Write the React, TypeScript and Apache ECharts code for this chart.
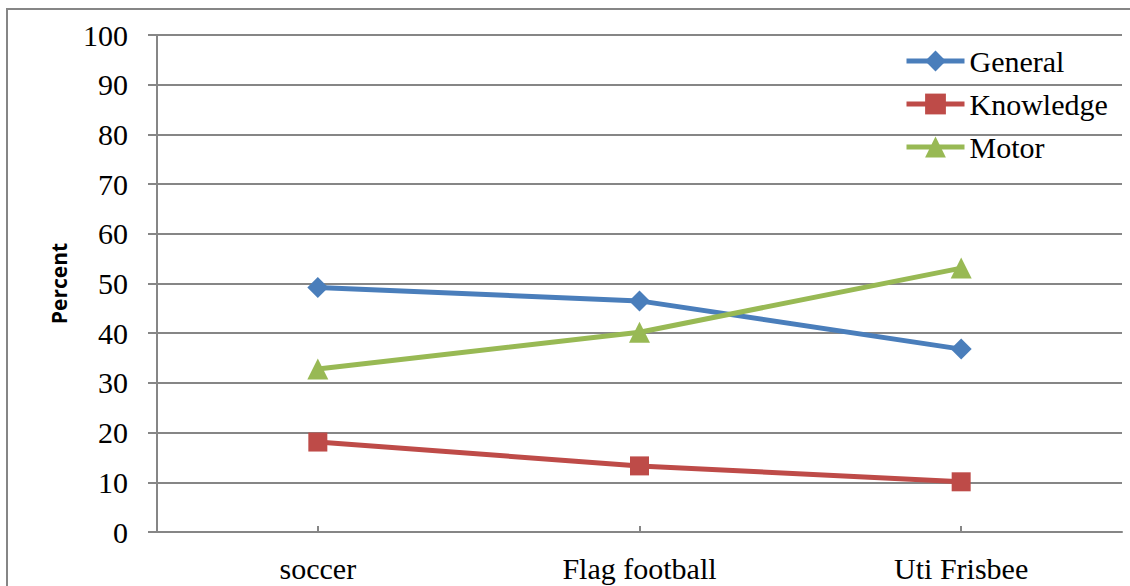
import React, { useEffect, useRef } from "react";
import * as echarts from "echarts";

const categories = ["soccer", "Flag football", "Uti Frisbee"];
const generalValues = [49.2, 46.5, 36.8];
const knowledgeValues = [18.1, 13.3, 10.1];
const motorValues = [32.8, 40.2, 53.1];
const yTicks = { min: 0, max: 100, interval: 10 };

const GRAY = "#868686";
const SERIF = "Liberation Serif";

export default function App() {
  const ref = useRef<HTMLDivElement>(null);
  useEffect(() => {
    if (!ref.current) return;
    const chart = echarts.init(ref.current, undefined, { renderer: "svg" });
    const mk = (name: string, data: number[], color: string, symbol: string, size: number) => ({
      name,
      type: "line",
      data,
      symbol,
      symbolSize: size,
      lineStyle: { color, width: 5 },
      itemStyle: { color },
      emphasis: { disabled: true },
    });
    chart.setOption({
      animation: false,
      backgroundColor: "#ffffff",
      grid: { left: 157, right: 8, top: 35, bottom: 54, containLabel: false },
      legend: {
        orient: "vertical",
        left: 904,
        top: 46,
        padding: 0,
        itemWidth: 58,
        itemHeight: 26,
        itemGap: 13,
        lineStyle: { width: 5 },
        textStyle: { fontFamily: SERIF, fontSize: 30, color: "#000", lineHeight: 30 },
        data: ["General", "Knowledge", "Motor"],
      },
      xAxis: {
        type: "category",
        data: categories,
        boundaryGap: true,
        axisLine: { lineStyle: { color: GRAY, width: 2 } },
        axisTick: { show: true, alignWithLabel: true, inside: true, length: 6, lineStyle: { color: GRAY, width: 2 } },
        axisLabel: { fontFamily: SERIF, fontSize: 30, color: "#000", margin: 21 },
        splitLine: { show: false },
      },
      yAxis: {
        type: "value",
        min: yTicks.min,
        max: yTicks.max,
        interval: yTicks.interval,
        name: "Percent",
        nameLocation: "middle",
        nameGap: 88,
        nameRotate: 90,
        nameTextStyle: { fontFamily: "Open Sans", fontWeight: "bold", fontSize: 21, color: "#000" },
        axisLine: { show: true, lineStyle: { color: GRAY, width: 2 } },
        axisTick: { show: true, length: 9, lineStyle: { color: GRAY, width: 2 } },
        axisLabel: { fontFamily: SERIF, fontSize: 30, color: "#000", margin: 29 },
        splitLine: { show: true, lineStyle: { color: GRAY, width: 2 } },
      },
      series: [
        mk("General", generalValues, "#4a7ebb", "diamond", 21),
        mk("Knowledge", knowledgeValues, "#be4b48", "rect", 19),
        mk("Motor", motorValues, "#98b954", "triangle", 21),
      ],
    });
    return () => chart.dispose();
  }, []);
  return (
    <div style={{ position: "fixed", left: 0, top: 0, width: 1130, height: 586, background: "#fff" }}>
      <div ref={ref} style={{ position: "absolute", left: 0, top: 0, width: 1130, height: 586 }} />
      <div
        style={{
          position: "absolute",
          left: 6,
          top: 8,
          width: 1200,
          height: 700,
          borderLeft: "2px solid #868686",
          borderTop: "2px solid #868686",
          pointerEvents: "none",
        }}
      />
    </div>
  );
}
